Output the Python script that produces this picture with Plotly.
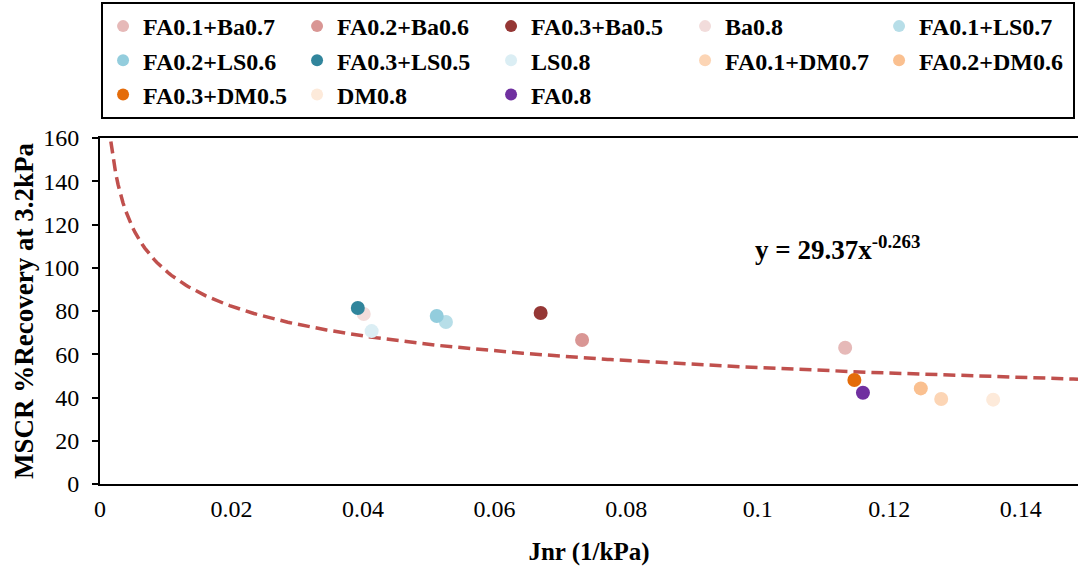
import numpy as np
import plotly.graph_objects as go

names = ["FA0.1+Ba0.7", "FA0.2+Ba0.6", "FA0.3+Ba0.5", "Ba0.8", "FA0.1+LS0.7",
         "FA0.2+LS0.6", "FA0.3+LS0.5", "LS0.8", "FA0.1+DM0.7", "FA0.2+DM0.6",
         "FA0.3+DM0.5", "DM0.8", "FA0.8"]
jnr = [0.1133, 0.0733, 0.0670, 0.0401, 0.0526,
       0.0512, 0.0392, 0.0413, 0.1279, 0.1248,
       0.1147, 0.1358, 0.1160]
recovery = [63.0, 66.6, 79.1, 78.6, 74.9,
            77.7, 81.4, 70.7, 39.3, 44.2,
            48.1, 39.0, 42.2]
colors = ["#E6B9B8", "#D99694", "#953735", "#F2DCDB", "#B7DEE8",
          "#93CDDD", "#31859C", "#DBEEF4", "#FCD5B5", "#FAC090",
          "#E46C0A", "#FDEADA", "#7030A0"]

fit_a = 29.37
fit_b = -0.263

FONT = "Liberation Serif"

fig = go.Figure()

xs = np.linspace(0.00165, 0.1487, 400)
fig.add_trace(go.Scatter(x=xs, y=fit_a * xs ** fit_b, mode="lines",
                         line=dict(color="#C0504D", width=3.5, dash="12px,6px"),
                         showlegend=False, hoverinfo="skip"))

for n, xv, yv, c in zip(names, jnr, recovery, colors):
    fig.add_trace(go.Scatter(x=[xv], y=[yv], mode="markers", name=n,
                             marker=dict(color=c, size=14)))

fig.add_annotation(x=0.0993, y=109, xref="x", yref="y", xanchor="left",
                   text="<b>y = 29.37x<sup>-0.263</sup></b>", showarrow=False,
                   font=dict(family=FONT, size=27, color="black"))

fig.update_layout(
    width=1078, height=571,
    margin=dict(l=100, r=0, t=138, b=87),
    plot_bgcolor="white", paper_bgcolor="white",
    font=dict(family=FONT, size=24, color="black"),
    legend=dict(orientation="h", x=0.997, y=1.393, xanchor="right", yanchor="top",
                entrywidth=149, entrywidthmode="pixels",
                bordercolor="black", borderwidth=2,
                font=dict(family=FONT, size=24, color="black", weight="bold"),
                itemsizing="constant"),
    xaxis=dict(range=[0, 0.1487], dtick=0.02, tick0=0, showgrid=False,
               zeroline=False, showline=True, linecolor="black", linewidth=2,
               mirror=True, ticks="", tickformat="~g", ticklabelstandoff=2,
               tickfont=dict(family=FONT, size=24),
               title=dict(text="<b>Jnr (1/kPa)</b>", standoff=22,
                          font=dict(family=FONT, size=25))),
    yaxis=dict(range=[0, 160], dtick=20, showgrid=False, zeroline=False,
               showline=True, linecolor="black", linewidth=2,
               ticks="outside", ticklen=6, tickwidth=2, tickcolor="black",
               ticklabelstandoff=8,
               tickfont=dict(family=FONT, size=24),
               title=dict(text="<b>MSCR %Recovery at 3.2kPa</b>", standoff=2,
                          font=dict(family=FONT, size=27))),
)

fig.write_html("out.html", config={"displayModeBar": False},
               post_script="document.body.style.margin='0';")
